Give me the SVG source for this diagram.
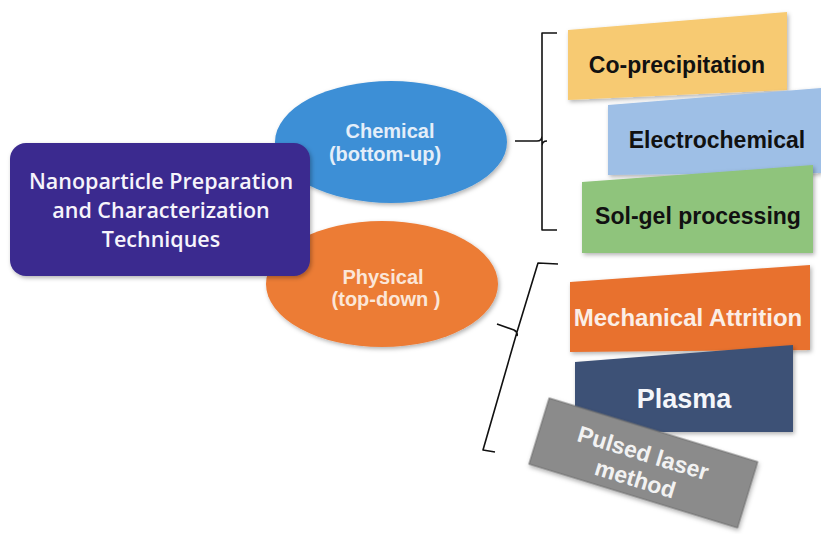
<svg xmlns="http://www.w3.org/2000/svg" width="821" height="534" viewBox="0 0 821 534">
<defs>
<filter id="sh" x="-10%" y="-10%" width="130%" height="140%"><feDropShadow dx="1.5" dy="2" stdDeviation="2" flood-color="#000" flood-opacity="0.3"/></filter>
</defs>
<style>
.lbl{font-family:"Liberation Sans",Arial,sans-serif;font-weight:bold;text-anchor:middle}
.main{font-family:"Open Sans","Noto Sans",sans-serif;font-weight:600;font-size:21.5px;fill:#f6f4fb;text-anchor:middle}
.br{fill:none;stroke:#111;stroke-width:1.6;stroke-linejoin:round}
</style>
<rect width="821" height="534" fill="#fff"/>
<g id="chemical">
<ellipse cx="391" cy="142" rx="116" ry="61" fill="#3d8fd6" filter="url(#sh)"/>
<text class="lbl" x="390" y="138" font-size="20" fill="#e4eef9">Chemical</text>
<text class="lbl" x="385" y="161" font-size="20" fill="#e4eef9">(bottom-up)</text>
</g>
<g id="physical">
<ellipse cx="382" cy="284" rx="116" ry="63" fill="#ec7b35" filter="url(#sh)"/>
<text class="lbl" x="383" y="284" font-size="20" fill="#fbe6d8">Physical</text>
<text class="lbl" x="386" y="306" font-size="20" fill="#fbe6d8">(top-down )</text>
</g>
<g id="main">
<rect x="10" y="143" width="300" height="133" rx="16" fill="#3b2c8f" filter="url(#sh)"/>
<text class="main" x="161" y="189">Nanoparticle Preparation</text>
<text class="main" x="161" y="218">and Characterization</text>
<text class="main" x="161" y="247">Techniques</text>
</g>
<g id="connectors">
<path class="br" d="M557 33 L542 33 L542 230 L557 230 M515 141 L537 141 Q542 141 542 136 M542 146 Q542 141 547 141"/>
<path class="br" d="M558 264 L538 263 L517 332 L483 450 L495 452 M497 324 L514 330 Q518 332 517 336"/>
</g>
<g id="coprecipitation">
<polygon points="568,30 787,12 787,90 568,100" fill="#f7ca72" filter="url(#sh)"/>
<text class="lbl" x="677" y="73" font-size="23" fill="#111">Co-precipitation</text>
</g>
<g id="electrochemical">
<polygon points="608,105 821,88 821,173 608,175" fill="#9ebfe6" filter="url(#sh)"/>
<text class="lbl" x="717" y="148" font-size="23" fill="#111">Electrochemical</text>
</g>
<g id="solgel">
<polygon points="582,182 813,165 813,253 582,253" fill="#8fc47b" filter="url(#sh)"/>
<text class="lbl" x="698" y="224" font-size="23" fill="#111">Sol-gel processing</text>
</g>
<g id="mechanical">
<polygon points="570,282 810,265 810,350 570,352" fill="#e8712f" filter="url(#sh)"/>
<text class="lbl" x="688" y="326" font-size="24" fill="#fbeee6">Mechanical Attrition</text>
</g>
<g id="plasma">
<polygon points="575,362 793,345 793,432 575,432" fill="#3e5176" filter="url(#sh)"/>
<text class="lbl" x="684" y="408" font-size="27" fill="#f4f6fa">Plasma</text>
</g>
<g id="pulsed" transform="translate(643.5,462.5) rotate(17)">
<rect x="-109" y="-34" width="218" height="69" fill="#8b8b8b" stroke="#6f6f6f" stroke-width="1" filter="url(#sh)"/>
<text class="lbl" x="-3" y="-1" font-size="23" fill="#f2f2f2">Pulsed laser</text>
<text class="lbl" x="-3" y="26" font-size="23" fill="#f2f2f2">method</text>
</g>
</svg>
